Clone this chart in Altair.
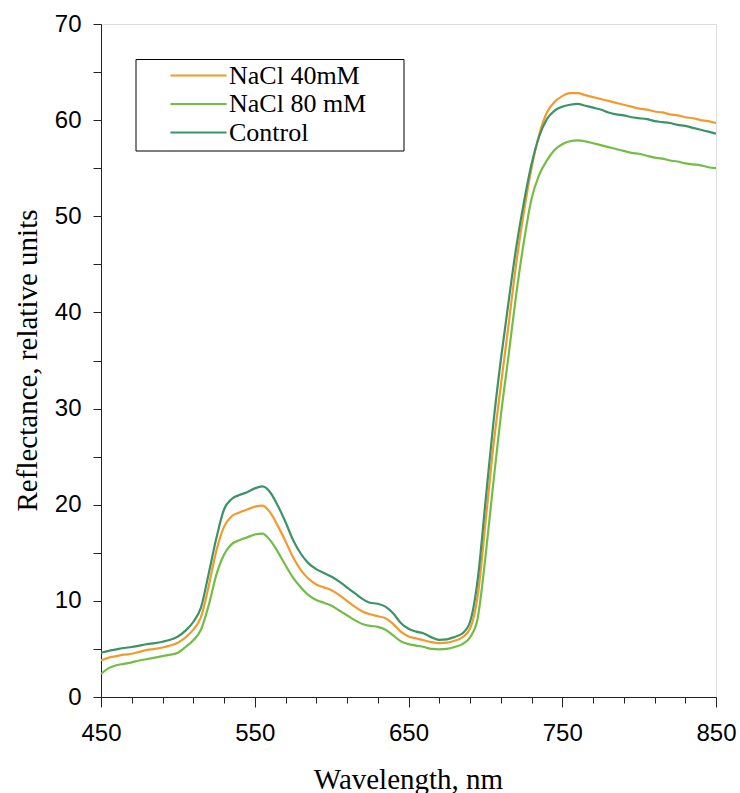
import altair as alt
import pandas as pd

wavelength = list(range(450, 851, 5))

control = [4.6, 4.8, 4.95, 5.1, 5.2, 5.35, 5.5, 5.6, 5.75, 5.95,
           6.3, 6.9, 7.8, 9.3, 12.8, 16.5, 19.5, 20.6, 21.0, 21.3,
           21.7, 21.9, 21.3, 19.9, 18.2, 16.3, 14.9, 13.9, 13.3, 12.9,
           12.5, 12.0, 11.4, 10.8, 10.2, 9.8, 9.7, 9.4, 8.7, 7.7,
           7.1, 6.8, 6.6, 6.2, 5.95, 6.0, 6.25, 6.6, 7.8, 12.2,
           20.2, 28.2, 35.0, 41.0, 46.7, 51.4, 55.4, 58.3, 60.1, 61.0,
           61.4, 61.6, 61.7, 61.5, 61.3, 61.1, 60.8, 60.6, 60.5, 60.3,
           60.2, 60.1, 59.9, 59.8, 59.7, 59.5, 59.4, 59.2, 59.0, 58.8,
           58.6]

nacl40 = [3.8, 4.1, 4.25, 4.4, 4.5, 4.7, 4.9, 5.0, 5.15, 5.35,
          5.65, 6.2, 7.0, 8.3, 11.5, 15.2, 17.7, 18.8, 19.2, 19.5,
          19.8, 19.9, 19.2, 17.8, 16.2, 14.5, 13.2, 12.3, 11.7, 11.4,
          11.1, 10.6, 10.0, 9.4, 8.9, 8.6, 8.4, 8.2, 7.6, 6.8,
          6.3, 6.1, 5.9, 5.7, 5.6, 5.65, 5.85, 6.2, 7.1, 10.5,
          18.0, 25.8, 32.3, 38.6, 45.0, 50.4, 55.0, 58.5, 60.8, 61.9,
          62.5, 62.8, 62.8, 62.6, 62.4, 62.2, 62.0, 61.8, 61.6, 61.4,
          61.2, 61.1, 60.9, 60.8, 60.6, 60.5, 60.3, 60.2, 60.0, 59.9,
          59.7]

nacl80 = [2.4, 3.0, 3.3, 3.45, 3.6, 3.8, 3.95, 4.1, 4.25, 4.4,
          4.6, 5.2, 5.9, 7.0, 9.5, 12.7, 14.8, 15.9, 16.3, 16.6,
          16.9, 17.0, 16.3, 15.1, 13.7, 12.4, 11.4, 10.6, 10.1, 9.8,
          9.5, 9.0, 8.5, 8.0, 7.6, 7.4, 7.3, 7.0, 6.4, 5.8,
          5.5, 5.35, 5.2, 5.0, 4.95, 5.0, 5.2, 5.5, 6.2, 8.2,
          14.5, 22.0, 29.2, 35.4, 41.8, 47.3, 51.8, 54.3, 55.8, 56.9,
          57.5, 57.8, 57.9, 57.8, 57.6, 57.4, 57.2, 57.0, 56.8, 56.6,
          56.5, 56.3, 56.1, 56.0, 55.8, 55.7, 55.5, 55.4, 55.3, 55.1,
          55.0]

series_names = ["NaCl 40mM", "NaCl 80 mM", "Control"]
series_colors = ["#F39A2E", "#72BE45", "#3A9468"]
x_ticks = list(range(450, 851, 20))
y_ticks = list(range(0, 71, 5))

rows = []
for name, vals in zip(series_names, [nacl40, nacl80, control]):
    for w, v in zip(wavelength, vals):
        rows.append({"wavelength": w, "reflectance": v, "series": name})
df = pd.DataFrame(rows)

lines = alt.Chart(df).mark_line(strokeWidth=2.2, clip=True, interpolate="monotone").encode(
    x=alt.X("wavelength:Q",
            scale=alt.Scale(domain=[450, 850], nice=False, zero=False),
            axis=alt.Axis(
                values=x_ticks,
                labelExpr="(datum.value - 450) % 100 === 0 ? datum.label : ''",
                title="Wavelength, nm",
                titleFont="Liberation Serif", titleFontSize=29,
                titleFontWeight="normal", titleColor="black",
                titleX=307, titleY=82, titleBaseline="middle",
                labelFont="Liberation Sans", labelFontSize=24, labelColor="black",
                labelPadding=14, labelFlush=False, labelOverlap=False,
                tickSize={"condition": {"test": "(datum.value - 450) % 100 === 0", "value": 10}, "value": 6},
                tickColor="#222", domainColor="#222", grid=False)),
    y=alt.Y("reflectance:Q",
            scale=alt.Scale(domain=[0, 70], nice=False),
            axis=alt.Axis(
                values=y_ticks,
                labelExpr="datum.value % 10 === 0 ? datum.label : ''",
                title="Reflectance, relative units",
                titleFont="Liberation Serif", titleFontSize=29,
                titleFontWeight="normal", titleColor="black",
                titleX=-74, titleY=336, titleAngle=-90,
                titleAlign="center", titleBaseline="middle",
                labelFont="Liberation Sans", labelFontSize=24, labelColor="black",
                labelPadding=12, labelFlush=False, labelOverlap=False,
                tickSize=8, tickColor="#222", domainColor="#222", grid=False)),
    color=alt.Color("series:N",
                    scale=alt.Scale(domain=series_names, range=series_colors),
                    sort=series_names,
                    legend=alt.Legend(
                        title=None, orient="none", legendX=83, legendY=37,
                        symbolType="M-2.16,0H2.16", symbolSize=676,
                        symbolStrokeWidth=2.2,
                        labelFont="Liberation Serif", labelFontSize=26,
                        labelColor="black", labelOffset=16,
                        rowPadding=0.5, padding=0)),
    order=alt.Order("series:N"),
)

frame = alt.Chart(pd.DataFrame({"k": [0]})).mark_rect(
    fill="white", stroke="black", strokeWidth=1
).encode(x=alt.value(35), x2=alt.value(303), y=alt.value(35.5), y2=alt.value(127))

chart = alt.layer(frame, lines).properties(
    width=615, height=673,
    autosize=alt.AutoSizeParams(type="none"),
    padding={"left": 101, "top": 24, "right": 24, "bottom": 96},
).configure_view(stroke="#8c8c8c", strokeWidth=2).configure(background="white")

chart.save("out.html", embed_options={"renderer": "svg", "actions": False})
